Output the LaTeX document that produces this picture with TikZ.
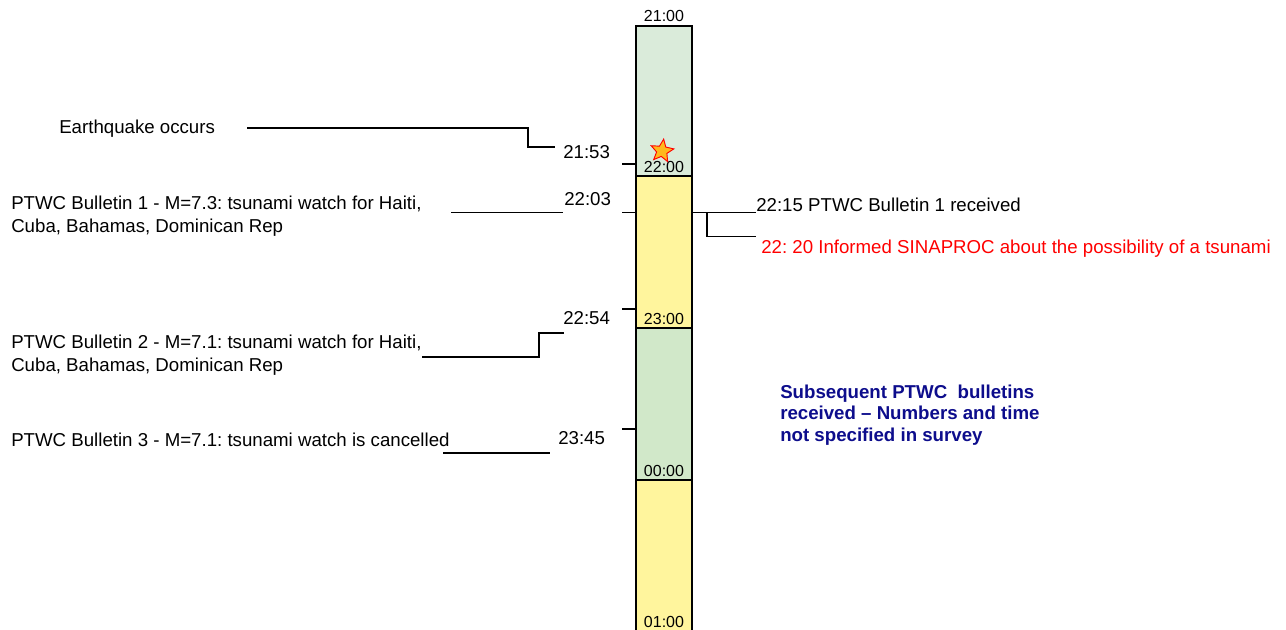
\documentclass[tikz,border=0pt]{standalone}
\usepackage{fontspec}
\setmainfont{Liberation Sans}
\usetikzlibrary{shapes.geometric}
\definecolor{lgreen}{HTML}{DAEBDA}
\definecolor{mgreen}{HTML}{D1E8C9}
\definecolor{lyellow}{HTML}{FFF59D}
\definecolor{navyblue}{HTML}{0D0D8C}
\definecolor{starfill}{HTML}{FFB81C}
\frenchspacing
\begin{document}
\frenchspacing
\begin{tikzpicture}[x=0.75pt,y=-0.75pt,
  txt/.style={font=\fontsize{14}{16}\selectfont, inner sep=0pt, anchor=base west},
  blue/.style={font=\fontsize{14}{16}\selectfont\bfseries, text=navyblue, inner sep=0pt, anchor=base west},
  hr/.style={font=\fontsize{12}{14}\selectfont, inner sep=0pt, anchor=base},
  conn/.style={line width=0.8pt},
  barline/.style={line width=0.9pt}]
\useasboundingbox (0,0) rectangle (1286,630);
% bar
\path[fill=lgreen] (636,26) rectangle (692,176);
\path[fill=lyellow] (636,176) rectangle (692,328);
\path[fill=mgreen] (636,328) rectangle (692,480);
\path[fill=lyellow] (636,480) rectangle (692,645);
\draw[barline] (636,645) -- (636,26) -- (692,26) -- (692,645);
\draw[barline] (636,176) -- (692,176);
\draw[barline] (636,328) -- (692,328);
\draw[barline] (636,480) -- (692,480);
% hour labels
\node[hr] (h21) at (664,22) {21:00};
\node[hr] (h22) at (664,173) {22:00};
\node[hr] (h23) at (664,325) {23:00};
\node[hr] (h00) at (664,477) {00:00};
\node[hr] (h01) at (664,628) {01:00};
% star
\node[star, star points=5, star point ratio=2.2, fill=starfill, draw=red, line width=0.7pt,
      minimum size=18pt, inner sep=0pt, rotate=-8] (quake) at (662,151) {};
% ticks
\coordinate (k1a) at (622,164); \coordinate (k1b) at (636,164);
\coordinate (k2a) at (622,212.5); \coordinate (k2b) at (636,212.5);
\coordinate (k3a) at (622,309); \coordinate (k3b) at (636,309);
\coordinate (k4a) at (622,429); \coordinate (k4b) at (636,429);
\draw[conn] (k1a) -- (k1b);
\draw[conn] (k2a) -- (k2b);
\draw[conn] (k3a) -- (k3b);
\draw[conn] (k4a) -- (k4b);
% time labels
\node[txt] (t2153) at (563,159) {21:53};
\node[txt] (t2203) at (564,206) {22:03};
\node[txt] (t2254) at (563,325) {22:54};
\node[txt] (t2345) at (558,445) {23:45};
% left texts
\node[txt] (eq) at (59,134) {Earthquake occurs};
\node[txt] (b1a) at (11,210) {PTWC Bulletin 1 - M=7.3: tsunami watch for Haiti,};
\node[txt] (b1b) at (11,233) {Cuba, Bahamas, Dominican Rep};
\node[txt] (b2a) at (11,348.5) {PTWC Bulletin 2 - M=7.1: tsunami watch for Haiti,};
\node[txt] (b2b) at (11,371.5) {Cuba, Bahamas, Dominican Rep};
\node[txt] (b3) at (11,446.5) {PTWC Bulletin 3 - M=7.1: tsunami watch is cancelled};
% left connectors
\coordinate (eqs) at (247,128); \coordinate (eqe) at (555,147);
\draw[conn] (eqs) -| (528,147) -- (eqe);
\coordinate (b1s) at (451,212.5); \coordinate (b1e) at (563,212.5);
\draw[conn] (b1s) -- (b1e);
\coordinate (b2s) at (422,357); \coordinate (b2e) at (564,333);
\draw[conn] (b2s) -| (539,333) -- (b2e);
\coordinate (b3s) at (443,453); \coordinate (b3e) at (550,453);
\draw[conn] (b3s) -- (b3e);
% right side
\node[txt] (r1) at (756,211.5) {22:15 PTWC Bulletin 1 received};
\node[txt, text=red] (r2) at (761,254) {22: 20 Informed SINAPROC about the possibility of a tsunami};
\coordinate (rs) at (692,212.5); \coordinate (re) at (756,212.5);
\coordinate (rb) at (707,212.5); \coordinate (rbe) at (756,236.5);
\draw[conn] (rs) -- (re);
\draw[conn] (rb) |- (rbe);
% blue note
\node[blue] (n1) at (780,399) {Subsequent PTWC\ \ bulletins};
\node[blue] (n2) at (780,420) {received – Numbers and time};
\node[blue] (n3) at (780,441.5) {not specified in survey};
\end{tikzpicture}
\end{document}
